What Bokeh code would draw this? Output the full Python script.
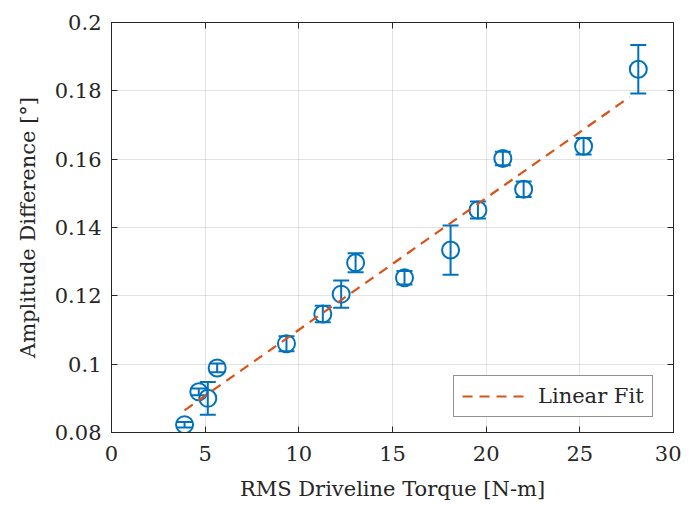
from bokeh.plotting import figure
from bokeh.models import (ColumnDataSource, Whisker, TeeHead, FixedTicker, LinearAxis,
                          Legend, LegendItem, Range1d)
from bokeh.embed import file_html
from bokeh.resources import INLINE

# ---- data ----
torque = [3.9, 4.66, 5.14, 5.64, 9.34, 11.28, 12.26, 13.03, 15.64, 18.1, 19.56, 20.89, 22.0, 25.2, 28.12]
amp_diff = [0.0823, 0.0919, 0.0900, 0.0989, 0.1060, 0.1147, 0.1205, 0.1297, 0.1253, 0.1334, 0.1451, 0.1602, 0.1512, 0.1638, 0.1863]
amp_err = [0.0008, 0.0010, 0.0048, 0.0013, 0.0022, 0.0024, 0.0040, 0.0028, 0.0020, 0.0072, 0.0025, 0.0020, 0.0023, 0.0024, 0.0071]

fit_x = [3.9, 27.66]
fit_y = [0.0865, 0.1782]

x_ticks = [0, 5, 10, 15, 20, 25, 30]
x_tick_labels = ["0", "5", "10", "15", "20", "25", "30"]
y_ticks = [0.08, 0.10, 0.12, 0.14, 0.16, 0.18, 0.20]
y_tick_labels = ["0.08", "0.1", "0.12", "0.14", "0.16", "0.18", "0.2"]

BLUE = "#0072BD"
ORANGE = "#D95319"
AX = "#262626"
FONT = "DejaVu Serif"
FS = "21px"

lower = [a - e for a, e in zip(amp_diff, amp_err)]
upper = [a + e for a, e in zip(amp_diff, amp_err)]
src = ColumnDataSource(dict(x=torque, y=amp_diff, lower=lower, upper=upper))

p = figure(width=681, height=503, output_backend="svg", toolbar_location=None,
           x_range=Range1d(0, 30), y_range=Range1d(0.08, 0.2),
           min_border_left=111, min_border_right=8, min_border_top=22, min_border_bottom=70)

p.outline_line_color = AX
p.outline_line_width = 1

# axes
for ax, ticks, labels in ((p.xaxis[0], x_ticks, x_tick_labels), (p.yaxis[0], y_ticks, y_tick_labels)):
    ax.ticker = FixedTicker(ticks=ticks)
    ax.major_label_overrides = {t: l for t, l in zip(ticks, labels)}
    ax.axis_line_color = AX
    ax.major_tick_line_color = AX
    ax.major_tick_in = 6
    ax.major_tick_out = 0
    ax.minor_tick_line_color = None
    ax.major_label_text_font = FONT
    ax.major_label_text_font_size = FS
    ax.major_label_text_color = AX
    ax.axis_label_text_font = FONT
    ax.axis_label_text_font_size = FS
    ax.axis_label_text_font_style = "normal"
    ax.axis_label_text_color = AX

p.xaxis.axis_label = "RMS Driveline Torque [N-m]"
p.yaxis.axis_label = "Amplitude Difference [°]"
p.xaxis.major_label_standoff = 13
p.yaxis.major_label_standoff = 10
p.xaxis.axis_label_standoff = 13
p.yaxis.axis_label_standoff = 12

# box ticks on top and right (no labels)
top = LinearAxis(ticker=FixedTicker(ticks=x_ticks),
                 major_label_overrides={t: "" for t in x_ticks},
                 major_tick_in=6, major_tick_out=0, minor_tick_line_color=None,
                 axis_line_color=AX, major_tick_line_color=AX, major_label_standoff=0)
right = LinearAxis(ticker=FixedTicker(ticks=y_ticks),
                   major_label_overrides={t: "" for t in y_ticks},
                   major_tick_in=6, major_tick_out=0, minor_tick_line_color=None,
                   axis_line_color=AX, major_tick_line_color=AX, major_label_standoff=0)
p.add_layout(top, "above")
p.add_layout(right, "right")

p.grid.grid_line_color = AX
p.grid.grid_line_alpha = 0.13
p.xgrid.ticker = FixedTicker(ticks=x_ticks)
p.ygrid.ticker = FixedTicker(ticks=y_ticks)

# error bars
wh = Whisker(source=src, base="x", lower="lower", upper="upper", dimension="height",
             line_color=BLUE, line_width=2,
             upper_head=TeeHead(size=16, line_color=BLUE, line_width=2),
             lower_head=TeeHead(size=16, line_color=BLUE, line_width=2))
p.add_layout(wh)
p.scatter("x", "y", source=src, marker="circle", size=17, fill_alpha=0,
          line_color=BLUE, line_width=2)

fit = p.line(fit_x, fit_y, line_color=ORANGE, line_width=2.2, line_dash="10 7")

legend = Legend(items=[LegendItem(label="Linear Fit", renderers=[fit])],
                location=(342, 15), margin=0, padding=8, spacing=0,
                glyph_width=68, glyph_height=20, label_height=20, label_standoff=8,
                label_text_font=FONT, label_text_font_size=FS, label_text_color=AX,
                border_line_color=AX, border_line_width=1, background_fill_color="white",
                background_fill_alpha=1.0)
p.add_layout(legend, "center")

open("out.html", "w").write(file_html(p, INLINE))
